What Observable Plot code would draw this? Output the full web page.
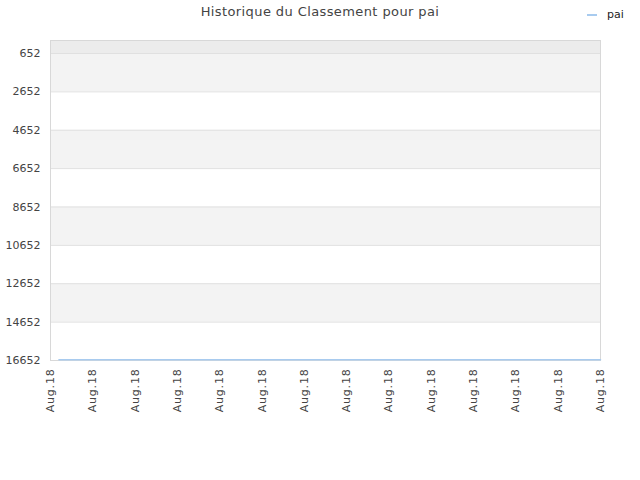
<!DOCTYPE html>
<html>
<head>
<meta charset="utf-8">
<script src="https://cdn.jsdelivr.net/npm/d3@7"></script>
<script src="https://cdn.jsdelivr.net/npm/@observablehq/plot@0.6"></script>
<style>
  body { margin: 0; background: #fff; font-family: "DejaVu Sans", sans-serif; }
  #wrap { position: relative; width: 640px; height: 480px; }
  #title { position: absolute; top: 4px; left: 0; width: 640px; text-align: center; font-size: 13px; color: #444; letter-spacing: 0.4px; }
  #legend { position: absolute; top: 8px; left: 587px; font-size: 11px; color: #222; display: flex; align-items: center; }
  #legend span.sw { display: inline-block; width: 10px; height: 2px; background: #a8cbef; margin-right: 10px; }
  #chart { position: absolute; top: 0; left: 0; }
  #chart svg g[aria-label="x-axis tick label"] text { letter-spacing: 0.8px; }
  #chart svg g[aria-label$="tick label"] { fill: #444; }
</style>
</head>
<body>
<div id="wrap">
  <div id="chart"></div>
  <div id="title">Historique du Classement pour pai</div>
  <div id="legend"><span class="sw"></span>pai</div>
</div>
<script>
// Data
const seriesName = "pai";
const timeIndex = [0.2, 13];
const rankValues = [16618, 16618];
const xTicks = [0,1,2,3,4,5,6,7,8,9,10,11,12,13];
const xTickLabels = ["Aug.18","Aug.18","Aug.18","Aug.18","Aug.18","Aug.18","Aug.18","Aug.18","Aug.18","Aug.18","Aug.18","Aug.18","Aug.18","Aug.18"];
const yTicks = [652, 2652, 4652, 6652, 8652, 10652, 12652, 14652, 16652];
const yDomain = [-25, 16652];
const shadedBands = [[652, 2652], [4652, 6652], [8652, 10652], [12652, 14652]];
const topBand = [[-25, 652]];

const data = timeIndex.map((t, i) => ({t, rank: rankValues[i], name: seriesName}));

const chart = Plot.plot({
  width: 640,
  height: 480,
  marginTop: 40,
  marginLeft: 50,
  marginRight: 40,
  marginBottom: 120,
  style: {fontFamily: "DejaVu Sans, sans-serif", fontSize: "11px", color: "#444", background: "white"},
  x: {domain: [0, 13], ticks: xTicks, tickFormat: (d, i) => xTickLabels[i], tickRotate: -90, tickSize: 0, tickPadding: 8, label: null},
  y: {domain: yDomain, reverse: true, ticks: yTicks, tickFormat: d => String(d), tickSize: 0, tickPadding: 10, label: null},
  marks: [
    Plot.rect(topBand, {x1: 0, x2: 13, y1: d => d[0], y2: d => d[1], fill: "#ececec"}),
    Plot.rect(shadedBands, {x1: 0, x2: 13, y1: d => d[0], y2: d => d[1], fill: "#f3f3f3"}),
    Plot.ruleY(yTicks, {stroke: "#e0e0e0", strokeWidth: 1}),
    Plot.frame({stroke: "#d8d8d8"}),
    Plot.line(data, {x: "t", y: "rank", stroke: "#a8cbef", strokeWidth: 1.5})
  ]
});
document.getElementById("chart").appendChild(chart);
</script>
</body>
</html>
